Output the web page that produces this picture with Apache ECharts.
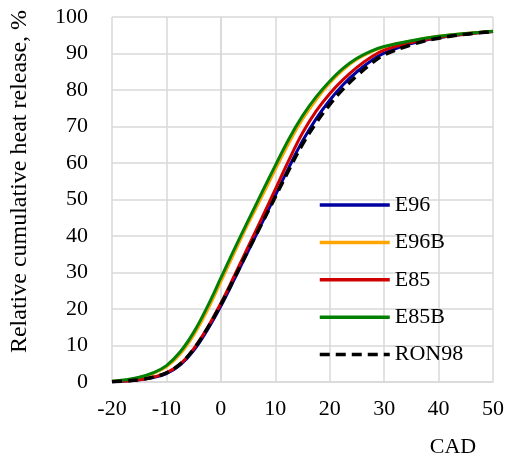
<!DOCTYPE html>
<html>
<head>
<meta charset="utf-8">
<script src="https://cdn.jsdelivr.net/npm/echarts@6/dist/echarts.min.js"></script>
<style>
  html, body { margin: 0; padding: 0; background: #fff; }
  #chart { width: 507px; height: 459px; }
</style>
</head>
<body>
<div id="chart"></div>
<script>
// crank angle, deg
const cad = [-20, -17.5, -15, -12.5, -10, -7.5, -5, -2.5, 0, 2.5, 5, 7.5, 10, 12.5, 15, 17.5, 20, 22.5, 25, 27.5, 30, 35, 40, 45, 50];

// relative cumulative heat release, %
const e96   = [0.1, 0.3, 0.6, 1.2, 2.3, 4.6, 8.6, 14.2, 20.8, 28.2, 35.8, 43.4, 51.1, 58.8, 66.0, 72.1, 77.2, 81.5, 85.0, 87.9, 90.1, 92.7, 94.3, 95.3, 96.0];
const e96b  = [0.2, 0.5, 1.2, 2.3, 4.2, 7.6, 12.8, 19.6, 27.5, 35.5, 43.3, 50.7, 58.2, 65.5, 72.0, 77.3, 81.9, 85.6, 88.4, 90.4, 91.8, 93.4, 94.7, 95.5, 96.1];
const e85   = [0.1, 0.3, 0.6, 1.3, 2.5, 4.9, 9.1, 14.8, 21.6, 29.2, 37.0, 44.8, 52.8, 60.8, 68.2, 74.2, 79.0, 82.9, 86.2, 88.9, 90.9, 93.0, 94.4, 95.3, 96.0];
const e85b  = [0.2, 0.6, 1.3, 2.5, 4.5, 8.2, 13.6, 20.6, 28.5, 36.5, 44.2, 51.8, 59.3, 66.6, 72.9, 78.1, 82.4, 86.0, 88.7, 90.6, 91.9, 93.5, 94.7, 95.5, 96.1];
const ron98 = [0.1, 0.3, 0.6, 1.3, 2.5, 4.9, 9.0, 14.6, 21.2, 28.5, 36.0, 43.3, 50.7, 58.1, 65.1, 71.0, 76.0, 80.3, 83.9, 87.1, 89.6, 92.4, 94.2, 95.3, 96.0];

const names  = ["E96", "E96B", "E85", "E85B", "RON98"];
const values = [e96, e96b, e85, e85b, ron98];
const colors = ["#0000a0", "#ffa500", "#d00000", "#008000", "#000000"];

const font = "'Liberation Serif', 'Times New Roman', serif";

const chart = echarts.init(document.getElementById("chart"));

const series = names.map((name, i) => ({
  name: name,
  type: "line",
  smooth: 0.4,
  symbol: "none",
  z: 2 + i,
  lineStyle: {
    color: colors[i],
    width: name === "RON98" ? 3.5 : 3,
    type: name === "RON98" ? [10, 6] : "solid"
  },
  itemStyle: { color: colors[i] },
  data: cad.map((x, j) => [x, values[i][j]])
}));

chart.setOption({
  animation: false,
  grid: {
    left: 110,
    right: 13,
    top: 17,
    bottom: 77
  },
  legend: {
    orient: "vertical",
    left: 318,
    top: 194,
    padding: 0,
    itemWidth: 70,
    itemHeight: 14,
    itemGap: 15.4,
    itemStyle: { opacity: 0 },
    lineStyle: { width: 3.5 },
    textStyle: { fontFamily: font, fontSize: 22, color: "#000" },
    data: names
  },
  xAxis: {
    type: "value",
    min: -20,
    max: 50,
    interval: 10,
    name: "CAD",
    nameLocation: "end",
    nameGap: -40,
    nameTextStyle: {
      fontFamily: font,
      fontSize: 22,
      color: "#000",
      align: "center",
      verticalAlign: "top",
      padding: [54, 0, 0, 0]
    },
    axisLine: { lineStyle: { color: "#d9d9d9", width: 1.5 } },
    axisTick: { show: false },
    axisLabel: { fontFamily: font, fontSize: 22, color: "#000", margin: 16 },
    splitLine: { show: true, lineStyle: { color: "#d9d9d9", width: 1.5 } }
  },
  yAxis: {
    type: "value",
    min: 0,
    max: 100,
    interval: 10,
    name: "Relative cumulative heat release, %",
    nameLocation: "middle",
    nameGap: 80,
    nameTextStyle: {
      fontFamily: font,
      fontSize: 24,
      color: "#000",
      padding: [0, 0, 0, 36]
    },
    axisLine: { show: true, lineStyle: { color: "#d9d9d9", width: 1.5 } },
    axisTick: { show: false },
    axisLabel: { fontFamily: font, fontSize: 22, color: "#000", margin: 24 },
    splitLine: { show: true, lineStyle: { color: "#d9d9d9", width: 1.5 } }
  },
  series: series
});
</script>
</body>
</html>
